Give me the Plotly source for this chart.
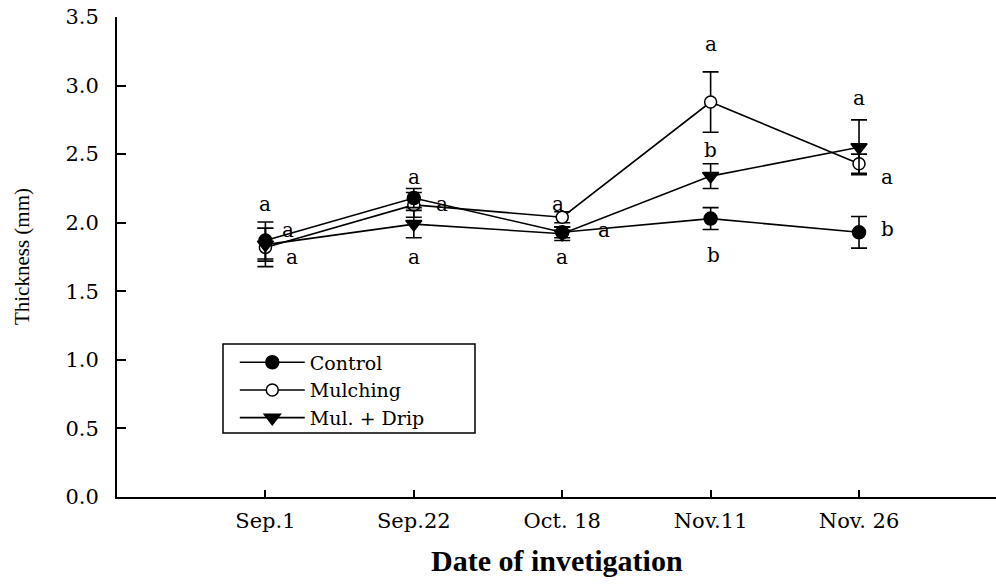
import plotly.graph_objects as go

# Sampling dates and treatment means with standard errors
dates = ["Sep.1", "Sep.22", "Oct. 18", "Nov.11", "Nov. 26"]

control = [1.87, 2.18, 1.93, 2.03, 1.93]
control_err = [0.135, 0.07, 0.04, 0.08, 0.115]

mulching = [1.82, 2.13, 2.04, 2.88, 2.43]
mulching_err = [0.14, 0.09, 0.04, 0.22, 0.07]

mul_drip = [1.84, 1.99, 1.92, 2.34, 2.55]
mul_drip_err = [0.12, 0.10, 0.05, 0.09, 0.20]

# Significance letters per treatment and date
control_sig = ["a", "a", "a", "b", "b"]
mulching_sig = ["a", "a", "a", "a", "a"]
mul_drip_sig = ["a", "a", "a", "b", "a"]

# Where each letter sits: (x offset from the date, y value)
control_pos = [(0.0, 2.14), (0.0, 2.33), (0.28, 1.95), (0.02, 1.765), (0.19, 1.955)]
mulching_pos = [(0.15, 1.95), (0.19, 2.14), (-0.03, 2.14), (0.0, 3.30), (0.19, 2.33)]
mul_drip_pos = [(0.18, 1.75), (0.0, 1.75), (0.0, 1.75), (0.0, 2.53), (0.0, 2.91)]

x_idx = list(range(len(dates)))

SERIF = "DejaVu Serif"
TIMES = "Liberation Serif"

fig = go.Figure()


def add_series(name, y, err, symbol, fill, size, rank):
    fig.add_trace(go.Scatter(
        x=x_idx, y=y, name=name, mode="lines+markers",
        line=dict(color="black", width=1.6),
        marker=dict(symbol=symbol, size=size, color=fill,
                    line=dict(color="black", width=1.5)),
        error_y=dict(type="data", array=err, visible=True,
                     color="black", thickness=1.6, width=8),
        legendrank=rank,
    ))


add_series("Mulching", mulching, mulching_err, "circle", "white", 12, 2)
add_series("Mul. + Drip", mul_drip, mul_drip_err, "triangle-down", "black", 14, 3)
add_series("Control", control, control_err, "circle", "black", 13, 1)

annotations = []
for sig, pos in ((control_sig, control_pos), (mulching_sig, mulching_pos),
                 (mul_drip_sig, mul_drip_pos)):
    for i, (letter, (dx, yv)) in enumerate(zip(sig, pos)):
        annotations.append(dict(
            x=x_idx[i] + dx, y=yv, xref="x", yref="y", text=letter,
            showarrow=False, font=dict(family=SERIF, size=20, color="black"),
            xanchor="center", yanchor="middle",
        ))

annotations.append(dict(
    x=0.5, y=-0.132, xref="paper", yref="paper", text="<b>Date of invetigation</b>",
    showarrow=False, font=dict(family=TIMES, size=30, color="black"),
    xanchor="center", yanchor="middle",
))
annotations.append(dict(
    x=-0.108, y=0.5, xref="paper", yref="paper", text="Thickness (mm)",
    showarrow=False, textangle=-90, font=dict(family=TIMES, size=21, color="black"),
    xanchor="center", yanchor="middle",
))

fig.update_layout(
    width=996, height=586,
    margin=dict(l=117, r=0, t=17, b=89),
    paper_bgcolor="white", plot_bgcolor="white",
    showlegend=True,
    legend=dict(
        x=0.134, y=0.32, xanchor="left", yanchor="top",
        bgcolor="rgba(0,0,0,0)", borderwidth=0,
        font=dict(family=SERIF, size=19, color="black"),
        itemwidth=65, tracegroupgap=0,
    ),
    annotations=annotations,
    shapes=[dict(
        type="rect", xref="paper", yref="paper",
        x0=(223 - 117) / 879, x1=(475 - 117) / 879,
        y0=(497 - 433) / 480, y1=(497 - 344) / 480,
        line=dict(color="black", width=1.5), fillcolor="rgba(0,0,0,0)",
    )],
)

fig.update_xaxes(
    range=[-1.0, 4.923], tickvals=x_idx, ticktext=dates,
    showline=True, linecolor="black", linewidth=1.8,
    ticks="inside", ticklen=7, tickwidth=1.5, tickcolor="black",
    showgrid=False, zeroline=False, ticklabelstandoff=4,
    tickfont=dict(family=SERIF, size=21, color="black"),
)
fig.update_yaxes(
    range=[0, 3.5], tickvals=[0, 0.5, 1.0, 1.5, 2.0, 2.5, 3.0, 3.5],
    ticktext=["0.0", "0.5", "1.0", "1.5", "2.0", "2.5", "3.0", "3.5"],
    showline=True, linecolor="black", linewidth=1.8,
    ticks="inside", ticklen=9, tickwidth=1.5, tickcolor="black",
    showgrid=False, zeroline=False, ticklabelstandoff=12,
    tickfont=dict(family=SERIF, size=21, color="black"),
)

fig.write_html("out.html")
